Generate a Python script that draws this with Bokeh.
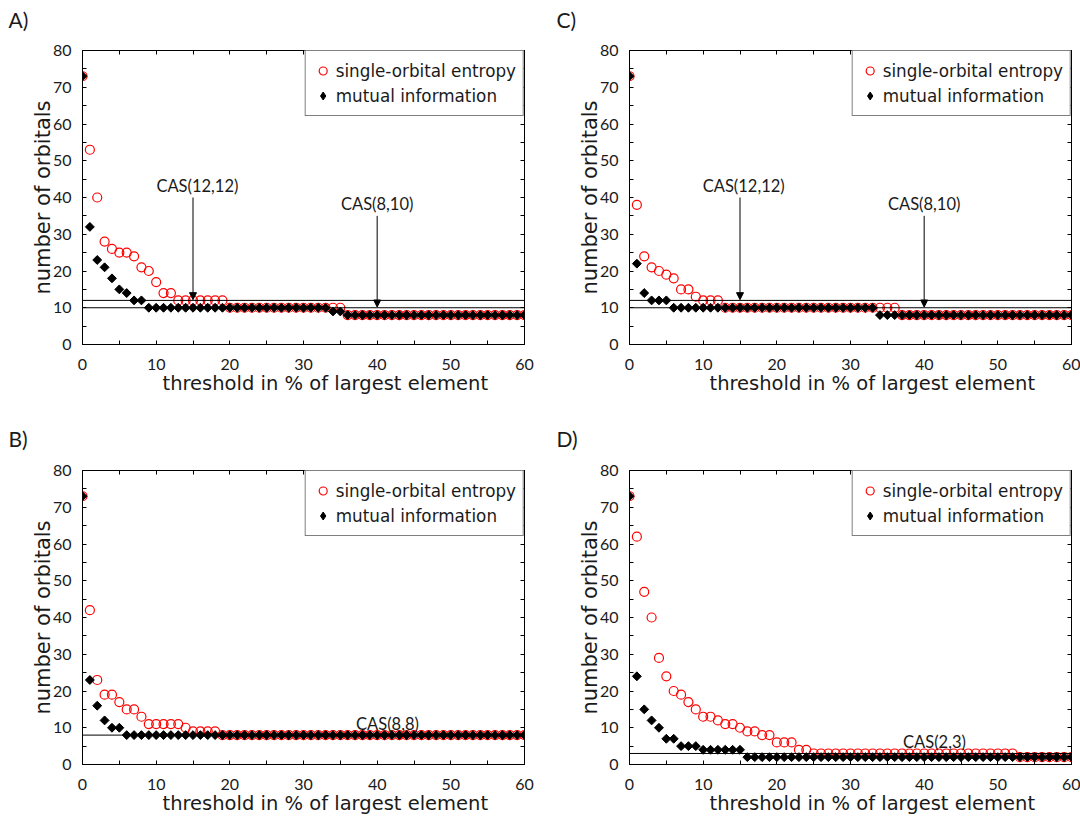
import math
from bokeh.plotting import figure
from bokeh.models import (Range1d, FixedTicker, LinearAxis, Span, Arrow, NormalHead,
                          Label, Legend, LegendItem, Title)
from bokeh.layouts import row, column
from bokeh.embed import file_html
from bokeh.resources import INLINE

FONT = "Lato"
LABEL_FONT = "DejaVu Sans"

thresholds = list(range(61))
x_major = [0, 10, 20, 30, 40, 50, 60]
x_minor = [5, 15, 25, 35, 45, 55]
y_major = [0, 10, 20, 30, 40, 50, 60, 70, 80]
y_minor = [5, 15, 25, 35, 45, 55, 65, 75]

A_entropy = [73, 53, 40, 28, 26, 25, 25, 24, 21, 20,
             17, 14, 14, 12, 12, 12, 12, 12, 12, 12,
             10, 10, 10, 10, 10, 10, 10, 10, 10, 10,
             10, 10, 10, 10, 10, 10, 8, 8, 8, 8,
             8, 8, 8, 8, 8, 8, 8, 8, 8, 8,
             8, 8, 8, 8, 8, 8, 8, 8, 8, 8,
             8]
A_mutual = [73, 32, 23, 21, 18, 15, 14, 12, 12, 10,
            10, 10, 10, 10, 10, 10, 10, 10, 10, 10,
            10, 10, 10, 10, 10, 10, 10, 10, 10, 10,
            10, 10, 10, 10, 9, 9, 8, 8, 8, 8,
            8, 8, 8, 8, 8, 8, 8, 8, 8, 8,
            8, 8, 8, 8, 8, 8, 8, 8, 8, 8,
            8]
C_entropy = [73, 38, 24, 21, 20, 19, 18, 15, 15, 13,
             12, 12, 12, 10, 10, 10, 10, 10, 10, 10,
             10, 10, 10, 10, 10, 10, 10, 10, 10, 10,
             10, 10, 10, 10, 10, 10, 10, 8, 8, 8,
             8, 8, 8, 8, 8, 8, 8, 8, 8, 8,
             8, 8, 8, 8, 8, 8, 8, 8, 8, 8,
             8]
C_mutual = [73, 22, 14, 12, 12, 12, 10, 10, 10, 10,
            10, 10, 10, 10, 10, 10, 10, 10, 10, 10,
            10, 10, 10, 10, 10, 10, 10, 10, 10, 10,
            10, 10, 10, 10, 8, 8, 8, 8, 8, 8,
            8, 8, 8, 8, 8, 8, 8, 8, 8, 8,
            8, 8, 8, 8, 8, 8, 8, 8, 8, 8,
            8]
B_entropy = [73, 42, 23, 19, 19, 17, 15, 15, 13, 11,
             11, 11, 11, 11, 10, 9, 9, 9, 9, 8,
             8, 8, 8, 8, 8, 8, 8, 8, 8, 8,
             8, 8, 8, 8, 8, 8, 8, 8, 8, 8,
             8, 8, 8, 8, 8, 8, 8, 8, 8, 8,
             8, 8, 8, 8, 8, 8, 8, 8, 8, 8,
             8]
B_mutual = [73, 23, 16, 12, 10, 10, 8, 8, 8, 8,
            8, 8, 8, 8, 8, 8, 8, 8, 8, 8,
            8, 8, 8, 8, 8, 8, 8, 8, 8, 8,
            8, 8, 8, 8, 8, 8, 8, 8, 8, 8,
            8, 8, 8, 8, 8, 8, 8, 8, 8, 8,
            8, 8, 8, 8, 8, 8, 8, 8, 8, 8,
            8]
D_entropy = [73, 62, 47, 40, 29, 24, 20, 19, 17, 15,
             13, 13, 12, 11, 11, 10, 9, 9, 8, 8,
             6, 6, 6, 4, 4, 3, 3, 3, 3, 3,
             3, 3, 3, 3, 3, 3, 3, 3, 3, 3,
             3, 3, 3, 3, 3, 3, 3, 3, 3, 3,
             3, 3, 3, 2, 2, 2, 2, 2, 2, 2,
             2]
D_mutual = [73, 24, 15, 12, 10, 7, 7, 5, 5, 5,
            4, 4, 4, 4, 4, 4, 2, 2, 2, 2,
            2, 2, 2, 2, 2, 2, 2, 2, 2, 2,
            2, 2, 2, 2, 2, 2, 2, 2, 2, 2,
            2, 2, 2, 2, 2, 2, 2, 2, 2, 2,
            2, 2, 2, 2, 2, 2, 2, 2, 2, 2,
            2]

# reference lines (number of orbitals), arrows (x, y_from, y_to), labels (text, x, y)
A_lines = [12, 10]
A_arrows = [(15, 40, 12.2), (40, 35, 10.2)]
A_labels = [("CAS(12,12)", 15.6, 43.0), ("CAS(8,10)", 40.0, 38.3)]
C_lines = [12, 10]
C_arrows = [(15, 40, 12.2), (40, 35, 10.2)]
C_labels = [("CAS(12,12)", 15.5, 43.0), ("CAS(8,10)", 40.0, 38.3)]
B_lines = [8]
B_arrows = []
B_labels = [("CAS(8,8)", 41.4, 10.9)]
D_lines = [3]
D_arrows = []
D_labels = [("CAS(2,3)", 41.4, 6.0)]


def make_panel(letter, entropy, mutual, lines, arrows, labels,
               width, height, bl, br, bt, bb, letter_offset, letter_standoff, top_row):
    p = figure(width=width, height=height, x_range=Range1d(0, 60), y_range=Range1d(0, 80),
               output_backend="svg", toolbar_location=None,
               min_border_left=bl, min_border_right=br, min_border_top=bt, min_border_bottom=bb,
               y_axis_label="number of orbitals")
    p.grid.visible = False
    p.outline_line_color = "black"
    p.border_fill_color = "white"
    p.background_fill_color = "white"

    # panel letter
    if top_row:
        # two-line box so that the letter sits higher above the frame
        p.title.text = letter + ")\n"
        p.title.text_line_height = 0.75
        p.title.vertical_align = "bottom"
    else:
        p.title.text = letter + ")"
        p.title.vertical_align = "top"
    p.title.align = "left"
    p.title.offset = letter_offset
    p.title.standoff = letter_standoff
    p.title.text_font = FONT
    p.title.text_font_size = "21px"
    p.title.text_font_style = "normal"
    p.title.text_color = "#1a1a1a"

    top = LinearAxis()
    right = LinearAxis()
    p.add_layout(top, "above")
    p.add_layout(right, "right")

    for ax in p.xaxis:
        ax.ticker = FixedTicker(ticks=x_major, minor_ticks=x_minor)
    for ax in p.yaxis:
        ax.ticker = FixedTicker(ticks=y_major, minor_ticks=y_minor)
    for ax in p.axis:
        ax.major_tick_in = 4
        ax.major_tick_out = 0
        ax.minor_tick_in = 4
        ax.minor_tick_out = 0
        ax.axis_line_color = "black"
        ax.major_tick_line_color = "black"
        ax.minor_tick_line_color = "black"
        ax.major_label_text_font = FONT
        ax.major_label_text_font_size = "16px"
        ax.major_label_text_color = "#1a1a1a"
        ax.axis_label_text_font = LABEL_FONT
        ax.axis_label_text_font_style = "normal"
        ax.axis_label_text_color = "#1a1a1a"
    for ax in (top, right):
        ax.major_label_text_font_size = "0px"
        ax.major_label_text_color = None
        ax.major_label_standoff = 0
    xb = p.below[0]
    xb.major_label_standoff = 14
    yl = p.left[0]
    yl.major_label_standoff = 11
    yl.axis_label_standoff = -5
    yl.axis_label_text_font_size = "21px"

    # x axis title, placed like the reference (left part shifted)
    p.add_layout(Title(text="threshold in % of largest element", align="left", offset=80,
                       vertical_align="bottom", standoff=-6, text_font=LABEL_FONT,
                       text_font_size="19.5px", text_font_style="normal",
                       text_color="#1a1a1a"), "below")

    for v in lines:
        p.add_layout(Span(location=v, dimension="width", line_color="black", line_width=1))
    for (xa, y0, y1) in arrows:
        p.add_layout(Arrow(end=NormalHead(size=7, line_color="black", fill_color="black", line_width=1),
                           x_start=xa, y_start=y0, x_end=xa, y_end=y1,
                           line_color="black", line_width=1))
    for (txt, xl, yl_) in labels:
        p.add_layout(Label(x=xl, y=yl_, text=txt, text_align="center", text_baseline="middle",
                           text_font=FONT, text_font_size="16.5px", text_color="#1a1a1a"))

    r1 = p.scatter(thresholds, entropy, marker="circle", size=9, fill_color=None,
                   line_color="red", line_width=1.2)
    # same points as a plain diamond (hidden under the rotated squares) for the key
    key = p.scatter(thresholds, mutual, marker="diamond", size=7,
                    fill_color="black", line_color="black")
    p.scatter(thresholds, mutual, marker="square", angle=math.pi / 4, size=6.3,
              fill_color="black", line_color="black")

    legend = Legend(items=[LegendItem(label="single-orbital entropy", renderers=[r1]),
                           LegendItem(label="mutual information", renderers=[key])],
                    location="top_right", margin=0, padding=7, spacing=0,
                    glyph_width=20, glyph_height=25, label_height=25, label_standoff=3,
                    label_text_font=LABEL_FONT, label_text_font_size="16.8px",
                    label_text_color="#1a1a1a",
                    border_line_color="black", border_line_width=1,
                    background_fill_color="white", background_fill_alpha=1)
    p.add_layout(legend)
    return p


pA = make_panel("A", A_entropy, A_mutual, A_lines, A_arrows, A_labels,
                540, 400, 82, 16, 50, 56, -74, 0, True)
pC = make_panel("C", C_entropy, C_mutual, C_lines, C_arrows, C_labels,
                540, 400, 89, 9, 50, 56, -73, 0, True)
pB = make_panel("B", B_entropy, B_mutual, B_lines, B_arrows, B_labels,
                540, 417, 82, 16, 70, 53, -74, 36, False)
pD = make_panel("D", D_entropy, D_mutual, D_lines, D_arrows, D_labels,
                540, 417, 89, 9, 70, 53, -73, 36, False)

layout = column(row(pA, pC), row(pB, pD))
open("out.html", "w").write(file_html(layout, INLINE))
